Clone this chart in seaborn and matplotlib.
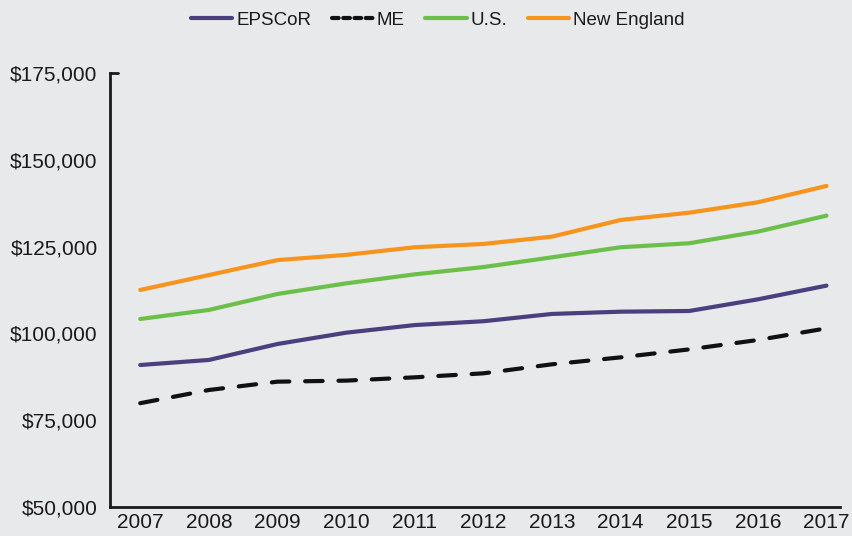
import matplotlib.pyplot as plt
import matplotlib.ticker as mticker
import numpy as np
import pandas as pd
import seaborn as sns

# data
years = [2007, 2008, 2009, 2010, 2011, 2012, 2013, 2014, 2015, 2016, 2017]
epscor = [90900, 92350, 96950, 100200, 102400, 103500, 105600, 106250, 106450, 109800, 113750]
me = [79900, 83700, 86100, 86400, 87350, 88500, 91100, 93100, 95400, 98100, 101450]
us = [104150, 106750, 111350, 114400, 117000, 119100, 121900, 124800, 125950, 129300, 133900]
new_england = [112500, 116800, 121100, 122600, 124800, 125750, 127850, 132650, 134750, 137750, 142450]

series_names = ["EPSCoR", "ME", "U.S.", "New England"]
series_values = [epscor, me, us, new_england]
colors = {"EPSCoR": "#4b3f80", "ME": "#111111", "U.S.": "#6cc04a", "New England": "#f7941d"}

df = pd.DataFrame({
    "Year": np.tile(years, len(series_names)),
    "Salary": np.concatenate(series_values),
    "Series": np.repeat(series_names, len(years)),
})

bg = "#e8e9eb"
sns.set_theme(style="white")
plt.rcParams['font.family'] = ['Liberation Sans', 'DejaVu Sans']

fig = plt.figure(figsize=(8.53, 5.36), dpi=100, facecolor=bg)
ax = fig.add_axes([0.129, 0.054, 0.856, 0.81], facecolor=bg)

sns.lineplot(data=df, x="Year", y="Salary", hue="Series", palette=colors,
             hue_order=series_names, linewidth=3, ax=ax, legend=False)

for line, name in zip(ax.get_lines(), series_names):
    line.set_solid_capstyle("round")
    line.set_dash_capstyle("round")
    if name == "ME":
        line.set_dashes([4.2, 3.8])

ax.set_xlim(2006.56, 2017.2)
ax.set_ylim(50000, 175000)
ax.set_xticks(years)
ax.set_yticks(range(50000, 175001, 25000))
ax.yaxis.set_major_formatter(mticker.FuncFormatter(lambda v, p: f"${v:,.0f}"))
ax.tick_params(axis="both", length=0, labelsize=15, colors="#1a1a1a")
ax.tick_params(axis="y", pad=9)
ax.tick_params(axis="x", pad=4)
ax.set_xlabel("")
ax.set_ylabel("")

for s in ["top", "right"]:
    ax.spines[s].set_visible(False)
for s in ["left", "bottom"]:
    ax.spines[s].set_linewidth(2)
    ax.spines[s].set_color("#1a1a1a")
# small cap at top of the y axis
ax.plot([2006.56, 2006.68], [175000, 175000], color="#1a1a1a", lw=2, clip_on=False)

handles = []
for name in series_names:
    h, = ax.plot([], [], color=colors[name], lw=3, solid_capstyle="round", dash_capstyle="round")
    if name == "ME":
        h.set_dashes([1.6, 1.1])
    handles.append(h)
fig.legend(handles, series_names, loc="upper center", bbox_to_anchor=(0.513, 1.01),
           ncol=4, frameon=False, fontsize=13.5, handlelength=2.2, handletextpad=0.2,
           columnspacing=1.1, labelcolor="#1a1a1a")

plt.savefig("out.png", dpi=100, facecolor=bg)
plt.close()
